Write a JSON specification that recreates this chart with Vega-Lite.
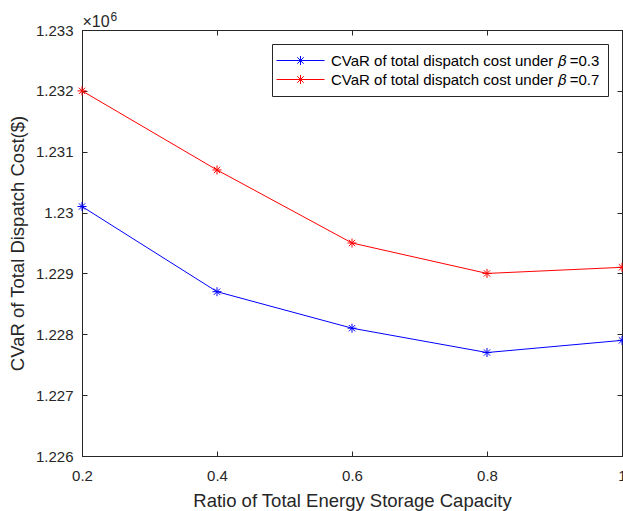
{
  "$schema": "https://vega.github.io/schema/vega-lite/v6.json",
  "width": 540,
  "height": 426,
  "autosize": {"type": "none"},
  "padding": {"left": 82, "top": 30, "right": 1, "bottom": 55},
  "background": "white",
  "config": {
    "view": {"stroke": "#262626", "strokeWidth": 1},
    "font": "Liberation Sans"
  },
  "data": {
    "values": [
      {"ratio": 0.2, "cvar": 1230100, "series": "CVaR of total dispatch cost under 𝛽 =0.3"},
      {"ratio": 0.4, "cvar": 1228700, "series": "CVaR of total dispatch cost under 𝛽 =0.3"},
      {"ratio": 0.6, "cvar": 1228100, "series": "CVaR of total dispatch cost under 𝛽 =0.3"},
      {"ratio": 0.8, "cvar": 1227700, "series": "CVaR of total dispatch cost under 𝛽 =0.3"},
      {"ratio": 1.0, "cvar": 1227900, "series": "CVaR of total dispatch cost under 𝛽 =0.3"},
      {"ratio": 0.2, "cvar": 1232000, "series": "CVaR of total dispatch cost under 𝛽 =0.7"},
      {"ratio": 0.4, "cvar": 1230700, "series": "CVaR of total dispatch cost under 𝛽 =0.7"},
      {"ratio": 0.6, "cvar": 1229500, "series": "CVaR of total dispatch cost under 𝛽 =0.7"},
      {"ratio": 0.8, "cvar": 1229000, "series": "CVaR of total dispatch cost under 𝛽 =0.7"},
      {"ratio": 1.0, "cvar": 1229100, "series": "CVaR of total dispatch cost under 𝛽 =0.7"}
    ]
  },
  "encoding": {
    "x": {"field": "ratio", "type": "quantitative", "scale": {"domain": [0.2, 1], "nice": false, "zero": false}},
    "y": {"field": "cvar", "type": "quantitative", "scale": {"domain": [1226000, 1233000], "nice": false, "zero": false}},
    "color": {"field": "series", "type": "nominal",
      "scale": {"domain": ["CVaR of total dispatch cost under 𝛽 =0.3", "CVaR of total dispatch cost under 𝛽 =0.7"], "range": ["#0000ff", "#ff0000"]}}
  },
  "layer": [
    {
      "mark": {"type": "line", "strokeWidth": 1, "clip": true},
      "encoding": {
        "x": {"field": "ratio", "type": "quantitative",
          "axis": {"orient": "bottom", "values": [0.2, 0.4, 0.6, 0.8, 1], "labelExpr": "datum.value + ''", "title": "Ratio of Total Energy Storage Capacity", "titleFontSize": 18.5, "titleFontWeight": "normal", "titleColor": "#262626", "titlePadding": 8, "labelFontSize": 15, "labelColor": "#262626", "tickSize": -5, "tickColor": "#262626", "domainColor": "#262626", "grid": false, "labelPadding": 17, "labelFlush": false, "labelOverlap": false}},
        "y": {"field": "cvar", "type": "quantitative",
          "axis": {"orient": "left", "values": [1226000, 1227000, 1228000, 1229000, 1230000, 1231000, 1232000, 1233000], "labelExpr": "(datum.value / 1000000) + ''", "title": "CVaR of Total Dispatch Cost($)", "titleFontSize": 18.5, "titleFontWeight": "normal", "titleColor": "#262626", "titlePadding": 8, "labelFontSize": 15, "labelColor": "#262626", "tickSize": -5, "tickColor": "#262626", "domainColor": "#262626", "grid": false, "labelPadding": 14, "labelFlush": false, "labelOverlap": false}},
        "color": {"field": "series", "type": "nominal",
          "legend": {"title": null, "orient": "none", "legendX": 190, "legendY": 14, "symbolType": "M-3,0L3,0M-0.5625,0L0.5625,0M0,-0.5625L0,0.5625M-0.4,-0.4L0.4,0.4M-0.4,0.4L0.4,-0.4", "symbolSize": 256, "symbolStrokeWidth": 1, "symbolFillColor": "transparent", "symbolOffset": 12, "labelFontSize": 15, "labelColor": "#000000", "strokeColor": "#262626", "fillColor": "white", "padding": 8, "rowPadding": 2, "labelOffset": 22, "labelLimit": 400}}
      }
    },
    {
      "mark": {"type": "point", "shape": "M-1,0L1,0M0,-1L0,1M-0.7,-0.7L0.7,0.7M-0.7,0.7L0.7,-0.7", "filled": false, "size": 81, "strokeWidth": 1, "opacity": 1, "clip": false},
      "encoding": {
        "x": {"field": "ratio", "type": "quantitative", "axis": {"orient": "top", "values": [0.2, 0.4, 0.6, 0.8, 1], "labels": false, "title": "×10", "titleAnchor": "start", "titleAlign": "left", "titleX": 0, "titleY": -4, "titleBaseline": "alphabetic", "titleFontSize": 16, "titleFontWeight": "normal", "titleColor": "#262626", "tickSize": -5, "tickColor": "#262626", "domainColor": "#262626", "grid": false}},
        "y": {"field": "cvar", "type": "quantitative", "axis": {"orient": "right", "values": [1226000, 1227000, 1228000, 1229000, 1230000, 1231000, 1232000, 1233000], "labels": false, "title": "6", "titleAngle": 0, "titleAnchor": "start", "titleAlign": "left", "titleX": -512, "titleY": -9.5, "titleBaseline": "alphabetic", "titleFontSize": 12, "titleFontWeight": "normal", "titleColor": "#262626", "tickSize": -5, "tickColor": "#262626", "domainColor": "#262626", "grid": false}}
      }
    }
  ],
  "resolve": {"axis": {"x": "independent", "y": "independent"}}
}
